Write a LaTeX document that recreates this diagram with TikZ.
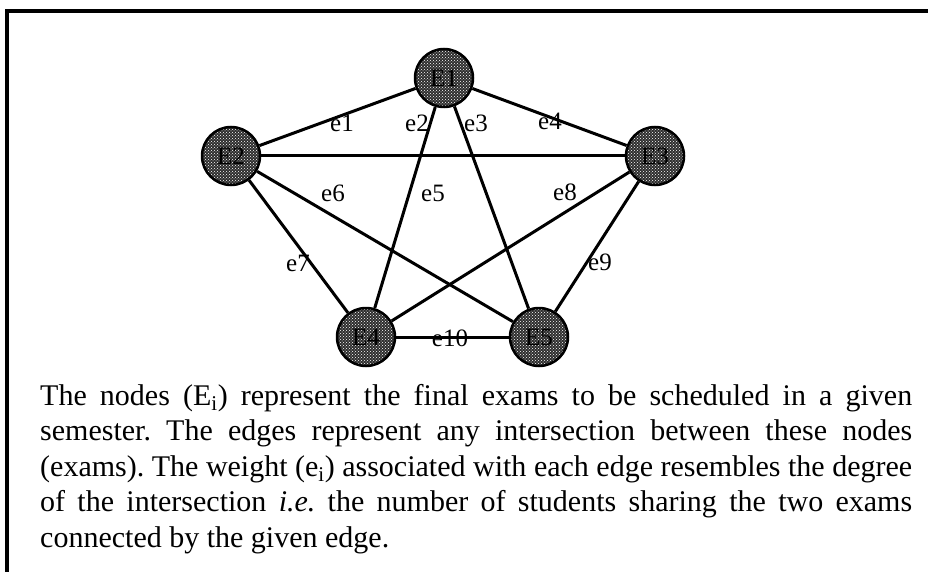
\documentclass[tikz,border=0pt]{standalone}
\usepackage{fontspec}
\setmainfont{Liberation Serif}
\usetikzlibrary{patterns}
\frenchspacing
\begin{document}
\begin{tikzpicture}[x=1pt,y=-1pt,
  exam/.style={circle, minimum size=58pt, inner sep=0pt, draw=black, line width=2.5pt,
    preaction={fill=black!82}, pattern=crosshatch dots, pattern color=white,
    font=\fontsize{25}{25}\selectfont},
  edgeline/.style={line width=3pt},
  wlabel/.style={inner sep=0pt, font=\fontsize{25}{25}\selectfont},
  capline/.style={anchor=base west, inner sep=0pt, font=\fontsize{30}{35}\selectfont}]
\useasboundingbox (0,0) rectangle (928,572);
% frame
\draw[line width=3.5pt] (7,572) |- (928,11);
% nodes
\node[exam] (E1) at (444,78) {E1};
\node[exam] (E2) at (231,156) {E2};
\node[exam] (E3) at (655,156) {E3};
\node[exam] (E4) at (366,337) {E4};
\node[exam] (E5) at (539,337) {E5};
% edges
\draw[edgeline] (E1) -- (E2);
\draw[edgeline] (E1) -- (E3);
\draw[edgeline] (E1) -- (E4);
\draw[edgeline] (E1) -- (E5);
\draw[edgeline] (E2) -- (E3);
\draw[edgeline] (E2) -- (E4);
\draw[edgeline] (E2) -- (E5);
\draw[edgeline] (E3) -- (E4);
\draw[edgeline] (E3) -- (E5);
\draw[edgeline] (E4) -- (E5);
% weights
\node[wlabel] (l1) at (342,123) {e1};
\node[wlabel] (l2) at (417,123) {e2};
\node[wlabel] (l3) at (476,123) {e3};
\node[wlabel] (l4) at (550,121) {e4};
\node[wlabel] (l5) at (433,193) {e5};
\node[wlabel] (l6) at (333,193) {e6};
\node[wlabel] (l7) at (298,263) {e7};
\node[wlabel] (l8) at (565,192) {e8};
\node[wlabel] (l9) at (600,262) {e9};
\node[wlabel] (l10) at (450,338) {e10};
% caption
\node[capline] (c1) at (40,405) {\makebox[872pt][s]{The nodes (E\textsubscript{i}) represent the final exams to be scheduled in a given}};
\node[capline] (c2) at (40,440.5) {\makebox[872pt][s]{semester. The edges represent any intersection between these nodes}};
\node[capline] (c3) at (40,476) {\makebox[872pt][s]{(exams). The weight (e\textsubscript{i}) associated with each edge resembles the degree}};
\node[capline] (c4) at (40,511.5) {\makebox[872pt][s]{of the intersection \textit{i.e.} the number of students sharing the two exams}};
\node[capline] (c5) at (40,547) {connected by the given edge.};
\end{tikzpicture}
\end{document}
